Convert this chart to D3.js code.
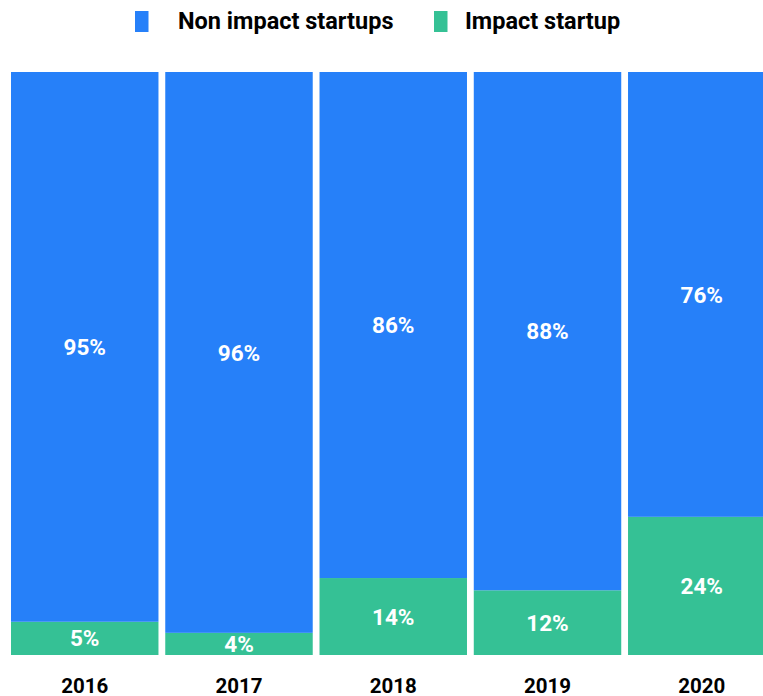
<!DOCTYPE html>
<html>
<head>
<meta charset="utf-8">
<script src="https://cdn.jsdelivr.net/npm/d3@7"></script>
<style>
  html, body { margin: 0; padding: 0; background: #fff; }
  svg { display: block; font-family: Roboto, "Noto Sans", sans-serif; }
</style>
</head>
<body>
<svg id="chart" width="763" height="696"></svg>
<script>
// data
var years = ["2016", "2017", "2018", "2019", "2020"];
var impactShare = [5.7, 3.8, 13.2, 11.1, 23.7];      // bar heights
var impactLabels = ["5%", "4%", "14%", "12%", "24%"];
var nonImpactLabels = ["95%", "96%", "86%", "88%", "76%"];
var seriesNames = ["Non impact startups", "Impact startup"];
var colors = ["#2680f9", "#35c195"];

var svg = d3.select("#chart");

var x = d3.scaleBand()
    .domain(years)
    .range([11, 775.5])
    .paddingInner(0.044)
    .paddingOuter(0);

var y = d3.scaleLinear()
    .domain([0, 100])
    .range([655, 72]);

var rows = years.map(function (yr, i) {
    return {
        year: yr,
        impact: impactShare[i],
        nonImpact: 100 - impactShare[i],
        impactLabel: impactLabels[i],
        nonImpactLabel: nonImpactLabels[i]
    };
});

var stack = d3.stack().keys(["impact", "nonImpact"]);
var layers = stack(rows);
var layerColor = { impact: colors[1], nonImpact: colors[0] };
var layerLabel = { impact: "impactLabel", nonImpact: "nonImpactLabel" };

var g = svg.append("g");

layers.forEach(function (layer) {
    var key = layer.key;
    g.selectAll(".bar-" + key)
        .data(layer)
        .enter()
        .append("rect")
        .attr("class", "bar-" + key)
        .attr("x", function (d) { return x(d.data.year); })
        .attr("width", x.bandwidth())
        .attr("y", function (d) { return y(d[1]); })
        .attr("height", function (d) { return y(d[0]) - y(d[1]); })
        .attr("fill", layerColor[key]);

    g.selectAll(".lbl-" + key)
        .data(layer)
        .enter()
        .append("text")
        .attr("class", "lbl-" + key)
        .attr("x", function (d) { return x(d.data.year) + x.bandwidth() / 2; })
        .attr("y", function (d) { return (y(d[0]) + y(d[1])) / 2; })
        .attr("dy", "0.36em")
        .attr("text-anchor", "middle")
        .attr("fill", "#fff")
        .attr("font-size", 22.5)
        .attr("font-weight", 700)
        .text(function (d) { return d.data[layerLabel[key]]; });
});

// year axis, no line or ticks
var axis = svg.append("g")
    .attr("transform", "translate(0,655)")
    .call(d3.axisBottom(x).tickSize(0).tickPadding(0));
axis.select(".domain").remove();
axis.selectAll("text")
    .attr("y", 38)
    .attr("dy", 0)
    .attr("fill", "#000")
    .attr("font-size", 20.5)
    .attr("font-weight", 700)
    .attr("font-family", "Roboto, sans-serif");

// legend
var legendBoxX = [135, 434];
var legendTextX = [178, 465];
var legend = svg.append("g");
seriesNames.forEach(function (name, i) {
    legend.append("rect")
        .attr("x", legendBoxX[i])
        .attr("y", 11)
        .attr("width", 13.5)
        .attr("height", 21)
        .attr("fill", colors[i]);
    legend.append("text")
        .attr("x", legendTextX[i])
        .attr("y", 29)
        .attr("font-size", 23.5)
        .attr("font-weight", 700)
        .attr("fill", "#000")
        .text(name);
});
</script>
</body>
</html>
